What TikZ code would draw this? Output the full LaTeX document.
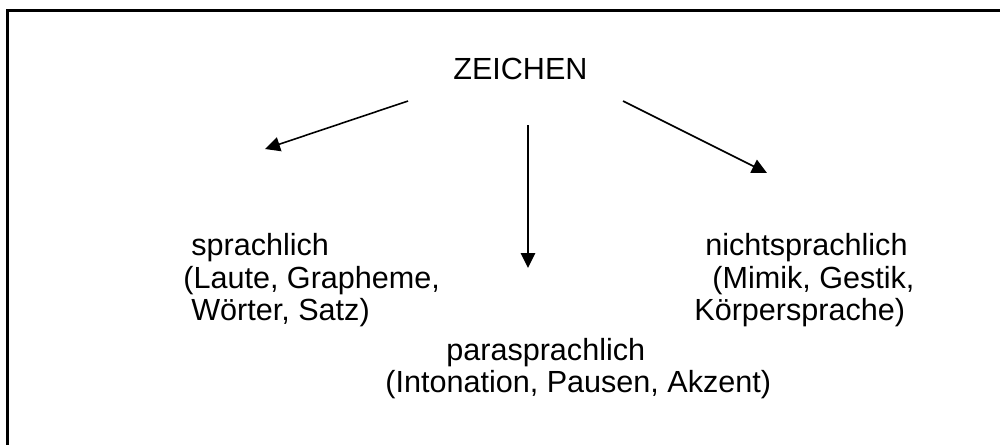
\documentclass[tikz,border=0pt]{standalone}
\usepackage{fontspec}
\setmainfont{Liberation Sans}
\usetikzlibrary{arrows.meta}

\begin{document}
\begin{tikzpicture}[x=0.02cm, y=-0.02cm,
    txt/.style={anchor=base west, inner sep=0pt, font=\fontsize{17.4}{20}\selectfont},
    link/.style={line width=0.9pt, -{Triangle[length=0.3cm, width=0.29cm]}},
    frameline/.style={line width=1.7pt}]
  \useasboundingbox (0,0) rectangle (1000,444);
  \clip (0,0) rectangle (1000,444);
  % open frame: top and left edges
  \draw[frameline] (1010,10.5) -- (7.5,10.5) -- (7.5,460);

  % headline
  \node[txt] (zeichen) at (453,79) {ZEICHEN};

  % left block
  \node[txt] (spr1) at (191,255) {sprachlich};
  \node[txt] (spr2) at (183,288) {(Laute, Grapheme,};
  \node[txt] (spr3) at (191,320) {Wörter, Satz)};

  % right block
  \node[txt] (nsp1) at (705,255) {nichtsprachlich};
  \node[txt] (nsp2) at (712,288) {(Mimik, Gestik,};
  \node[txt] (nsp3) at (694,320) {Körpersprache)};

  % middle block
  \node[txt] (psp1) at (446,360) {parasprachlich};
  \node[txt] (psp2) at (385,392) {(Intonation, Pausen, Akzent)};

  % arrow ends
  \coordinate (aL0) at (408,101);
  \coordinate (aL1) at (265,149);
  \coordinate (aM0) at (528,125);
  \coordinate (aM1) at (528,268);
  \coordinate (aR0) at (623,101);
  \coordinate (aR1) at (767,173);

  \draw[link] (aL0) -- (aL1);
  \draw[link] (aM0) -- (aM1);
  \draw[link] (aR0) -- (aR1);
\end{tikzpicture}
\end{document}
